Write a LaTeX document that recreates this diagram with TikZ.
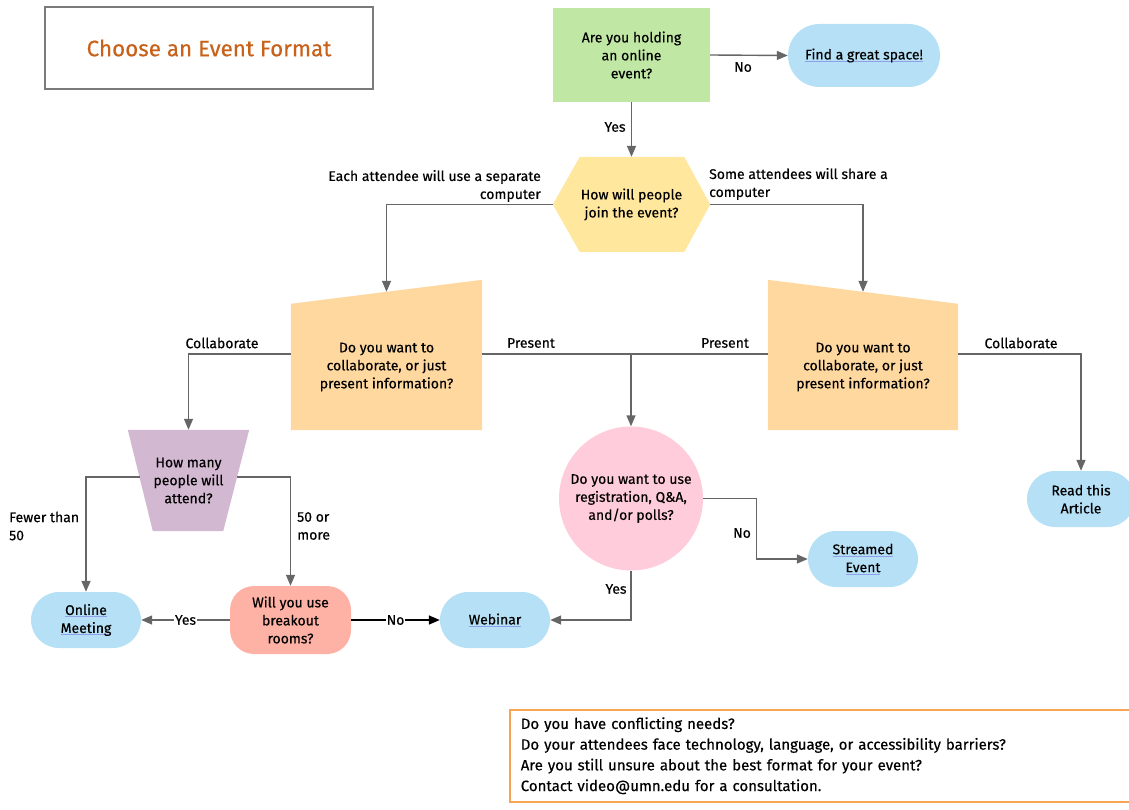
\documentclass[tikz,border=0pt]{standalone}
\usepackage{fontspec}
\setmainfont{Fira Sans}[FakeBold=0.35]
\usetikzlibrary{shapes.misc,shapes.geometric,arrows.meta,calc,backgrounds}
\definecolor{cgreen}{HTML}{C1E7A5}
\definecolor{cblue}{HTML}{B5E0F5}
\definecolor{cyellow}{HTML}{FFE79E}
\definecolor{corange}{HTML}{FFD89F}
\definecolor{cpurple}{HTML}{D3B8D2}
\definecolor{csalmon}{HTML}{FDB2A5}
\definecolor{cpink}{HTML}{FFCCDC}
\definecolor{ctitle}{HTML}{C8611A}
\definecolor{cframe}{HTML}{7A7A7A}
\definecolor{cnote}{HTML}{F7A456}
\definecolor{cline}{HTML}{666666}
\definecolor{culink}{HTML}{8F9FE8}
\newsavebox{\lkbox}
\newcommand{\lk}[1]{\sbox{\lkbox}{#1}\rlap{\textcolor{culink}{\rule[-0.28ex]{\wd\lkbox}{0.6pt}}}\usebox{\lkbox}}
\tikzset{
  box/.style={inner sep=0pt, align=center},
  term/.style={rounded rectangle, fill=cblue, inner sep=0pt, align=center, minimum width=110pt, minimum height=56pt},
  arr/.style={draw=cline, line width=1.4pt, -{Triangle[length=11pt,width=9pt]}},
  plain/.style={draw=cline, line width=1.4pt},
  lbl/.style={inner sep=0pt, align=center},
}
\begin{document}
\begin{tikzpicture}[x=1pt,y=-1pt, font=\fontsize{14}{18}\selectfont]
\useasboundingbox (0,0) rectangle (1129,810);
\clip (0,0) rectangle (1129,810);

% title
\node[draw=cframe, line width=1.3pt, minimum width=328pt, minimum height=82pt, font=\fontsize{22.4}{26}\selectfont\color{ctitle}] (title) at (209,48) {Choose an Event Format};

% nodes
\node[box, fill=cgreen, minimum width=157pt, minimum height=94pt] (online) at (631.5,55) {Are you holding\\an online\\event?};
\node[term, minimum width=152pt, minimum height=63pt] (space) at (864,55.5) {\lk{Find a great space!}};
\node[box, minimum width=157pt, minimum height=95pt] (join) at (631.5,204.5) {How will people\\join the event?};
\node[box, minimum width=191pt, minimum height=126pt] (lq) at (386.5,367) {Do you want to\\collaborate, or just\\present information?};
\node[box, minimum width=190pt, minimum height=126pt] (rq) at (863,367) {Do you want to\\collaborate, or just\\present information?};
\node[box, minimum width=121pt, minimum height=101pt] (tz) at (188.5,480.5) {How many\\people will\\attend?};
\node[circle, fill=cpink, box, minimum size=144pt] (reg) at (631,498.5) {Do you want to use\\registration, Q\&A,\\and/or polls?};
\node[term] (om) at (86,620) {\lk{Online}\\\lk{Meeting}};
\node[box, fill=csalmon, rounded corners=24pt, minimum width=121pt, minimum height=68pt] (br) at (290.5,620) {Will you use\\breakout\\rooms?};
\node[term] (web) at (495,620) {\lk{Webinar}};
\node[term] (st) at (863,559) {\lk{Streamed}\\\lk{Event}};
\node[term, minimum width=108pt] (ra) at (1081,499) {Read this\\Article};

% custom shapes
\begin{scope}[on background layer]
\fill[cyellow] (join.west) -- ($(join.north west)+(27,0)$) -- ($(join.north east)+(-26,0)$) -- (join.east) -- ($(join.south east)+(-26,0)$) -- ($(join.south west)+(27,0)$) -- cycle;
\fill[corange] (lq.south west) -- (lq.north west) -- ($(lq.north east)+(0,-24)$) -- (lq.south east) -- cycle;
\fill[corange] (rq.south west) -- ($(rq.north west)+(0,-24)$) -- (rq.north east) -- (rq.south east) -- cycle;
\fill[cpurple] (tz.north west) -- (tz.north east) -- ($(tz.south east)+(-26,0)$) -- ($(tz.south west)+(25,0)$) -- cycle;
\end{scope}

% note
\node[draw=cnote, line width=1.5pt, minimum height=92pt, text width=604pt, inner xsep=11pt, align=left, anchor=north west, font=\fontsize{15}{20.7}\selectfont] (note) at (509,709) {Do you have conflicting needs?\\Do your attendees face technology, language, or accessibility barriers?\\Are you still unsure about the best format for your event?\\Contact video@umn.edu for a consultation.};

% helper coordinates
\coordinate (lqtop) at ($(lq.north)+(0,-12)$);
\coordinate (rqtop) at ($(rq.north)+(0,-12)$);
\coordinate (lqL) at ($(lq.west)+(0,-13)$);
\coordinate (lqR) at ($(lq.east)+(0,-13)$);
\coordinate (rqL) at ($(rq.west)+(0,-13)$);
\coordinate (rqR) at ($(rq.east)+(0,-13)$);
\coordinate (tzL) at ($(tz.west)+(12,-3.5)$);
\coordinate (tzR) at ($(tz.east)+(-12,-3.5)$);

% connectors
\draw[arr] (online.east) -- (space.west);
\draw[arr] (online.south) -- (join.north);
\draw[arr] (join.west) -| (lqtop);
\draw[arr] (join.east) -| (rqtop);
\draw[arr] (lqL) -| (tz.north);
\draw[arr] (lqR) -| (reg.north);
\draw[plain] (rqL) -- (reg.north |- rqL);
\draw[arr] (rqR) -| (ra.north);
\draw[arr] (tzL) -| (om.north);
\draw[arr] (tzR) -| (br.north);
\draw[arr] (br.west) -- (om.east) node[midway, fill=white, inner sep=1pt, text=black] {Yes};
\draw[line width=1.4pt, -{Triangle[length=11pt,width=9pt]}] (br.east) -- (web.west) node[midway, fill=white, inner sep=1pt] {No};
\draw[arr] (reg.east) -- ++(53,0) |- (st.west);
\draw[arr] (reg.south) |- (web.east);

% labels
\node[lbl] (l1) at (743,67) {No};
\node[lbl] (l2) at (615,127) {Yes};
\node[lbl, anchor=east, align=right] (l3) at (541,186) {Each attendee will use a separate\\computer};
\node[lbl, anchor=west, align=left] (l4) at (709,184) {Some attendees will share a\\computer};
\node[lbl] (l5) at (222,343) {Collaborate};
\node[lbl] (l6) at (531,343) {Present};
\node[lbl] (l7) at (725,343) {Present};
\node[lbl] (l8) at (1021,343) {Collaborate};
\node[lbl, anchor=west, align=left] (l9) at (9,526) {Fewer than\\50};
\node[lbl, anchor=west, align=left] (l10) at (297,526) {50 or\\more};
\node[lbl] (l11) at (742,533) {No};
\node[lbl] (l12) at (616,589) {Yes};
\end{tikzpicture}
\end{document}
